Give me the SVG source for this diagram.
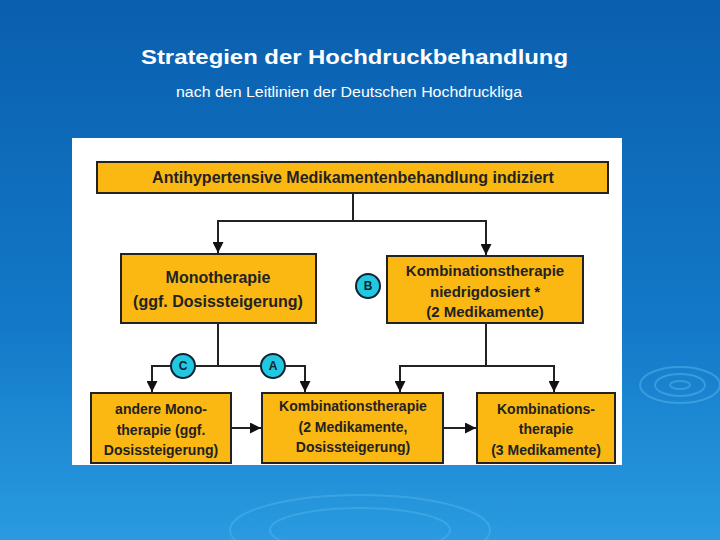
<svg xmlns="http://www.w3.org/2000/svg" width="720" height="540" viewBox="0 0 720 540">
<defs>
<linearGradient id="bg" x1="0" y1="0" x2="0" y2="1"><stop offset="0" stop-color="#0a5fae"/><stop offset="0.6" stop-color="#1279c8"/><stop offset="1" stop-color="#2a9be0"/></linearGradient>
<marker id="ar" viewBox="0 0 10 10" refX="10" refY="5" markerWidth="12" markerHeight="11" orient="auto" markerUnits="userSpaceOnUse"><path d="M0,0 L10,5 L0,10 z" fill="#111"/></marker>
<style>
.box{fill:#fbb813;stroke:#222;stroke-width:2}
.t{font-family:"Liberation Sans",Arial,sans-serif;font-weight:bold;fill:#222;text-anchor:middle}
.c{fill:#22c8e0;stroke:#123;stroke-width:2}
.ct{font-family:"Liberation Sans",Arial,sans-serif;font-weight:bold;font-size:12px;fill:#123;text-anchor:middle}
.ln{fill:none;stroke:#222;stroke-width:2}
</style>
</defs>
<rect width="720" height="540" fill="url(#bg)"/>
<g fill="none" stroke="#4aaee8" stroke-width="2" opacity="0.6">
<ellipse cx="680" cy="385" rx="40" ry="18"/><ellipse cx="680" cy="385" rx="25" ry="11"/><ellipse cx="680" cy="385" rx="10" ry="4"/>
<ellipse cx="360" cy="530" rx="130" ry="35"/><ellipse cx="360" cy="530" rx="90" ry="22"/>
</g>
<text x="141" y="64" textLength="427" lengthAdjust="spacingAndGlyphs" font-family="Liberation Sans,Arial,sans-serif" font-size="21" font-weight="bold" fill="#fff">Strategien der Hochdruckbehandlung</text>
<text x="176" y="97" textLength="346" lengthAdjust="spacingAndGlyphs" font-family="Liberation Sans,Arial,sans-serif" font-size="14" fill="#fff">nach den Leitlinien der Deutschen Hochdruckliga</text>
<rect x="72" y="138" width="550" height="327" fill="#fff"/>
<g id="connectors">
<path class="ln" d="M353,193 V221 H218 V253" marker-end="url(#ar)"/>
<path class="ln" d="M353,221 H486 V255" marker-end="url(#ar)"/>
<path class="ln" d="M218,323 V366 H152 V392" marker-end="url(#ar)"/>
<path class="ln" d="M218,366 H305 V392" marker-end="url(#ar)"/>
<path class="ln" d="M486,323 V366 H400 V392" marker-end="url(#ar)"/>
<path class="ln" d="M486,366 H554 V392" marker-end="url(#ar)"/>
<path class="ln" d="M231,428 H261" marker-end="url(#ar)"/>
<path class="ln" d="M443,428 H476" marker-end="url(#ar)"/>
</g>
<g id="top"><rect class="box" x="97" y="162" width="511" height="31"/><text class="t" x="353" y="183" font-size="16">Antihypertensive Medikamentenbehandlung indiziert</text></g>
<g id="mono"><rect class="box" x="121" y="254" width="195" height="69"/><text class="t" x="218" y="283" font-size="16">Monotherapie</text><text class="t" x="218" y="307" font-size="16">(ggf. Dosissteigerung)</text></g>
<g id="kombi-niedrig"><rect class="box" x="387" y="256" width="196" height="67"/><text class="t" x="485" y="276" font-size="15">Kombinationstherapie</text><text class="t" x="485" y="297" font-size="15">niedrigdosiert *</text><text class="t" x="485" y="317" font-size="15">(2 Medikamente)</text></g>
<g id="andere"><rect class="box" x="91" y="393" width="140" height="70"/><text class="t" x="161" y="414" font-size="14">andere Mono-</text><text class="t" x="161" y="435" font-size="14">therapie (ggf.</text><text class="t" x="161" y="455" font-size="14">Dosissteigerung)</text></g>
<g id="kombi2"><rect class="box" x="262" y="393" width="181" height="70"/><text class="t" x="353" y="411" font-size="14">Kombinationstherapie</text><text class="t" x="353" y="432" font-size="14">(2 Medikamente,</text><text class="t" x="353" y="452" font-size="14">Dosissteigerung)</text></g>
<g id="kombi3"><rect class="box" x="477" y="393" width="138" height="70"/><text class="t" x="546" y="414" font-size="14">Kombinations-</text><text class="t" x="546" y="434" font-size="14">therapie</text><text class="t" x="546" y="455" font-size="14">(3 Medikamente)</text></g>
<g id="B"><circle class="c" cx="368" cy="286" r="12"/><text class="ct" x="368" y="290">B</text></g>
<g id="C"><circle class="c" cx="183" cy="366" r="12"/><text class="ct" x="183" y="370">C</text></g>
<g id="A"><circle class="c" cx="273" cy="366" r="12"/><text class="ct" x="273" y="370">A</text></g>
</svg>
